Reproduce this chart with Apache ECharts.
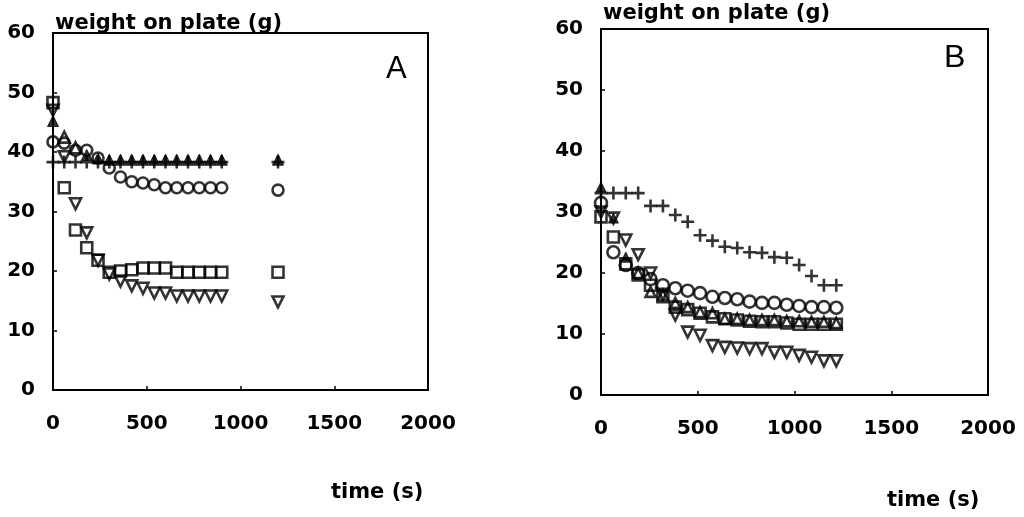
<!DOCTYPE html>
<html>
<head>
<meta charset="utf-8">
<script src="https://cdn.jsdelivr.net/npm/echarts@6/dist/echarts.min.js"></script>
<style>
  html, body { margin: 0; padding: 0; background: #fff; }
  #chart { width: 1024px; height: 517px; }
</style>
</head>
<body>
<div id="chart"></div>
<script>
// Panel A: sampling times (s) and plate weight (g) for each run
const timesA = [0, 60, 120, 180, 240, 300, 360, 420, 480, 540, 600, 660, 720, 780, 840, 900, 1200];
const plusA = [38.3, 38.3, 38.3, 38.3, 38.3, 38.3, 38.3, 38.3, 38.3, 38.3, 38.3, 38.3, 38.3, 38.3, 38.3, 38.3, 38.3];
const upA = [45.2, 42.5, 40.7, 39.5, 38.9, 38.7, 38.7, 38.7, 38.7, 38.7, 38.7, 38.7, 38.7, 38.7, 38.7, 38.7, 38.7];
const circleA = [41.7, 41.5, 40.3, 40.3, 39.0, 37.3, 35.8, 35.0, 34.8, 34.5, 34.0, 34.0, 34.0, 34.0, 34.0, 34.0, 33.6];
const squareA = [48.3, 34.0, 26.9, 23.9, 21.8, 19.8, 20.0, 20.2, 20.5, 20.5, 20.5, 19.8, 19.8, 19.8, 19.8, 19.8, 19.8];
const downA = [47.0, 39.2, 31.3, 26.4, 21.8, 19.5, 18.3, 17.5, 17.1, 16.3, 16.3, 15.8, 15.8, 15.8, 15.8, 15.8, 14.8];

// Panel B
const timesB = [0, 64, 128, 192, 256, 320, 384, 448, 512, 576, 640, 704, 768, 832, 896, 960, 1024, 1088, 1152, 1216];
const plusB = [33.1, 33.1, 33.1, 33.1, 31.0, 31.0, 29.5, 28.4, 26.2, 25.3, 24.3, 24.1, 23.4, 23.3, 22.6, 22.5, 21.3, 19.5, 18.0, 18.0];
const circleB = [31.5, 23.4, 21.3, 20.0, 19.0, 18.0, 17.5, 17.1, 16.7, 16.1, 15.9, 15.7, 15.3, 15.1, 15.1, 14.8, 14.6, 14.4, 14.4, 14.3];
const squareB = [29.2, 25.9, 21.5, 19.7, 18.0, 16.1, 14.4, 14.0, 13.4, 12.8, 12.5, 12.3, 12.1, 12.0, 12.0, 11.8, 11.6, 11.6, 11.6, 11.6];
const upB = [34.1, 29.0, 22.6, 20.0, 16.9, 16.4, 15.1, 14.4, 13.6, 13.4, 12.5, 12.5, 12.3, 12.3, 12.3, 12.1, 12.1, 12.0, 12.0, 11.8];
const downB = [30.0, 29.0, 25.4, 23.0, 20.0, 16.5, 13.1, 10.3, 9.8, 8.1, 7.8, 7.7, 7.6, 7.6, 7.0, 7.0, 6.5, 6.2, 5.6, 5.6];

// Axis ticks
const xTicks = { min: 0, max: 2000, interval: 500 };
const yTicks = { min: 0, max: 60, interval: 10 };

const PLUS = 'path://M4,0H6V4H10V6H6V10H4V6H0V4H4Z';
const FONT = 'DejaVu Sans';
const OPEN = { color: 'rgba(0,0,0,0)', borderColor: '#000', borderWidth: 2.6 };
const SOLID = { color: '#000', borderColor: '#000', borderWidth: 1 };

// filledAt: indices of points whose marker is drawn solid
function marker(name, idx, xs, ys, symbol, size, rotate, filledAt) {
  const isPlus = symbol === PLUS;
  const fills = filledAt || [];
  return {
    name: name,
    type: 'scatter',
    xAxisIndex: idx, yAxisIndex: idx,
    data: xs.map((x, i) => fills.indexOf(i) >= 0
      ? { value: [x, ys[i]], itemStyle: SOLID }
      : [x, ys[i]]),
    symbol: symbol,
    symbolSize: size,
    symbolRotate: rotate || 0,
    itemStyle: isPlus ? { color: '#000' } : OPEN,
    silent: true
  };
}

const plain = v => String(v);

function xAxis(idx) {
  return {
    gridIndex: idx, type: 'value',
    min: xTicks.min, max: xTicks.max, interval: xTicks.interval,
    axisLine: { show: true, lineStyle: { color: '#000', width: 2 } },
    axisTick: { show: true, inside: true, length: 4, lineStyle: { color: '#000', width: 1.5 } },
    axisLabel: { color: '#000', fontFamily: FONT, fontWeight: 'bold', fontSize: 20, margin: 24, formatter: plain },
    splitLine: { show: false }
  };
}

function yAxis(idx, gap) {
  return {
    gridIndex: idx, type: 'value',
    min: yTicks.min, max: yTicks.max, interval: yTicks.interval,
    name: 'weight on plate (g)',
    nameLocation: 'end',
    nameGap: gap,
    nameTextStyle: { color: '#000', fontFamily: FONT, fontWeight: 'bold', fontSize: 21, align: 'left', verticalAlign: 'bottom', padding: [0, 0, 0, 2] },
    axisLine: { show: true, lineStyle: { color: '#000', width: 2 } },
    axisTick: { show: true, inside: true, length: 4, lineStyle: { color: '#000', width: 1.5 } },
    axisLabel: { color: '#000', fontFamily: FONT, fontWeight: 'bold', fontSize: 20, margin: 18, formatter: plain },
    splitLine: { show: false }
  };
}

const chart = echarts.init(document.getElementById('chart'), null, { renderer: 'canvas' });
chart.setOption({
  animation: false,
  backgroundColor: '#fff',
  grid: [
    { left: 53, top: 33, width: 375, height: 357, show: true, borderColor: '#000', borderWidth: 2, backgroundColor: 'transparent' },
    { left: 601, top: 29, width: 387, height: 366, show: true, borderColor: '#000', borderWidth: 2, backgroundColor: 'transparent' }
  ],
  xAxis: [xAxis(0), xAxis(1)],
  yAxis: [yAxis(0, -1), yAxis(1, 5)],
  graphic: [
    { type: 'text', left: 386, top: 54, style: { text: 'A', font: '31px "Liberation Sans"', fill: '#000' } },
    { type: 'text', left: 944, top: 42, style: { text: 'B', font: '32px "Liberation Sans"', fill: '#000' } },
    { type: 'text', left: 331, top: 482, style: { text: 'time (s)', font: 'bold 21px "DejaVu Sans"', fill: '#000' } },
    { type: 'text', left: 887, top: 490, style: { text: 'time (s)', font: 'bold 21px "DejaVu Sans"', fill: '#000' } }
  ],
  series: [
    marker('plus A', 0, timesA, plusA, PLUS, 13),
    marker('up A', 0, timesA, upA, 'triangle', 11, 0, [0, 3, 4, 5, 6, 7, 8, 9, 10, 11, 12, 13, 14, 15, 16]),
    marker('circle A', 0, timesA, circleA, 'circle', 11),
    marker('square A', 0, timesA, squareA, 'rect', 11),
    marker('down A', 0, timesA, downA, 'triangle', 11, 180),
    marker('plus B', 1, timesB, plusB, PLUS, 13),
    marker('circle B', 1, timesB, circleB, 'circle', 12),
    marker('square B', 1, timesB, squareB, 'rect', 11),
    marker('up B', 1, timesB, upB, 'triangle', 10, 0, [0, 1, 2]),
    marker('down B', 1, timesB, downB, 'triangle', 11, 180)
  ]
});
</script>
</body>
</html>
